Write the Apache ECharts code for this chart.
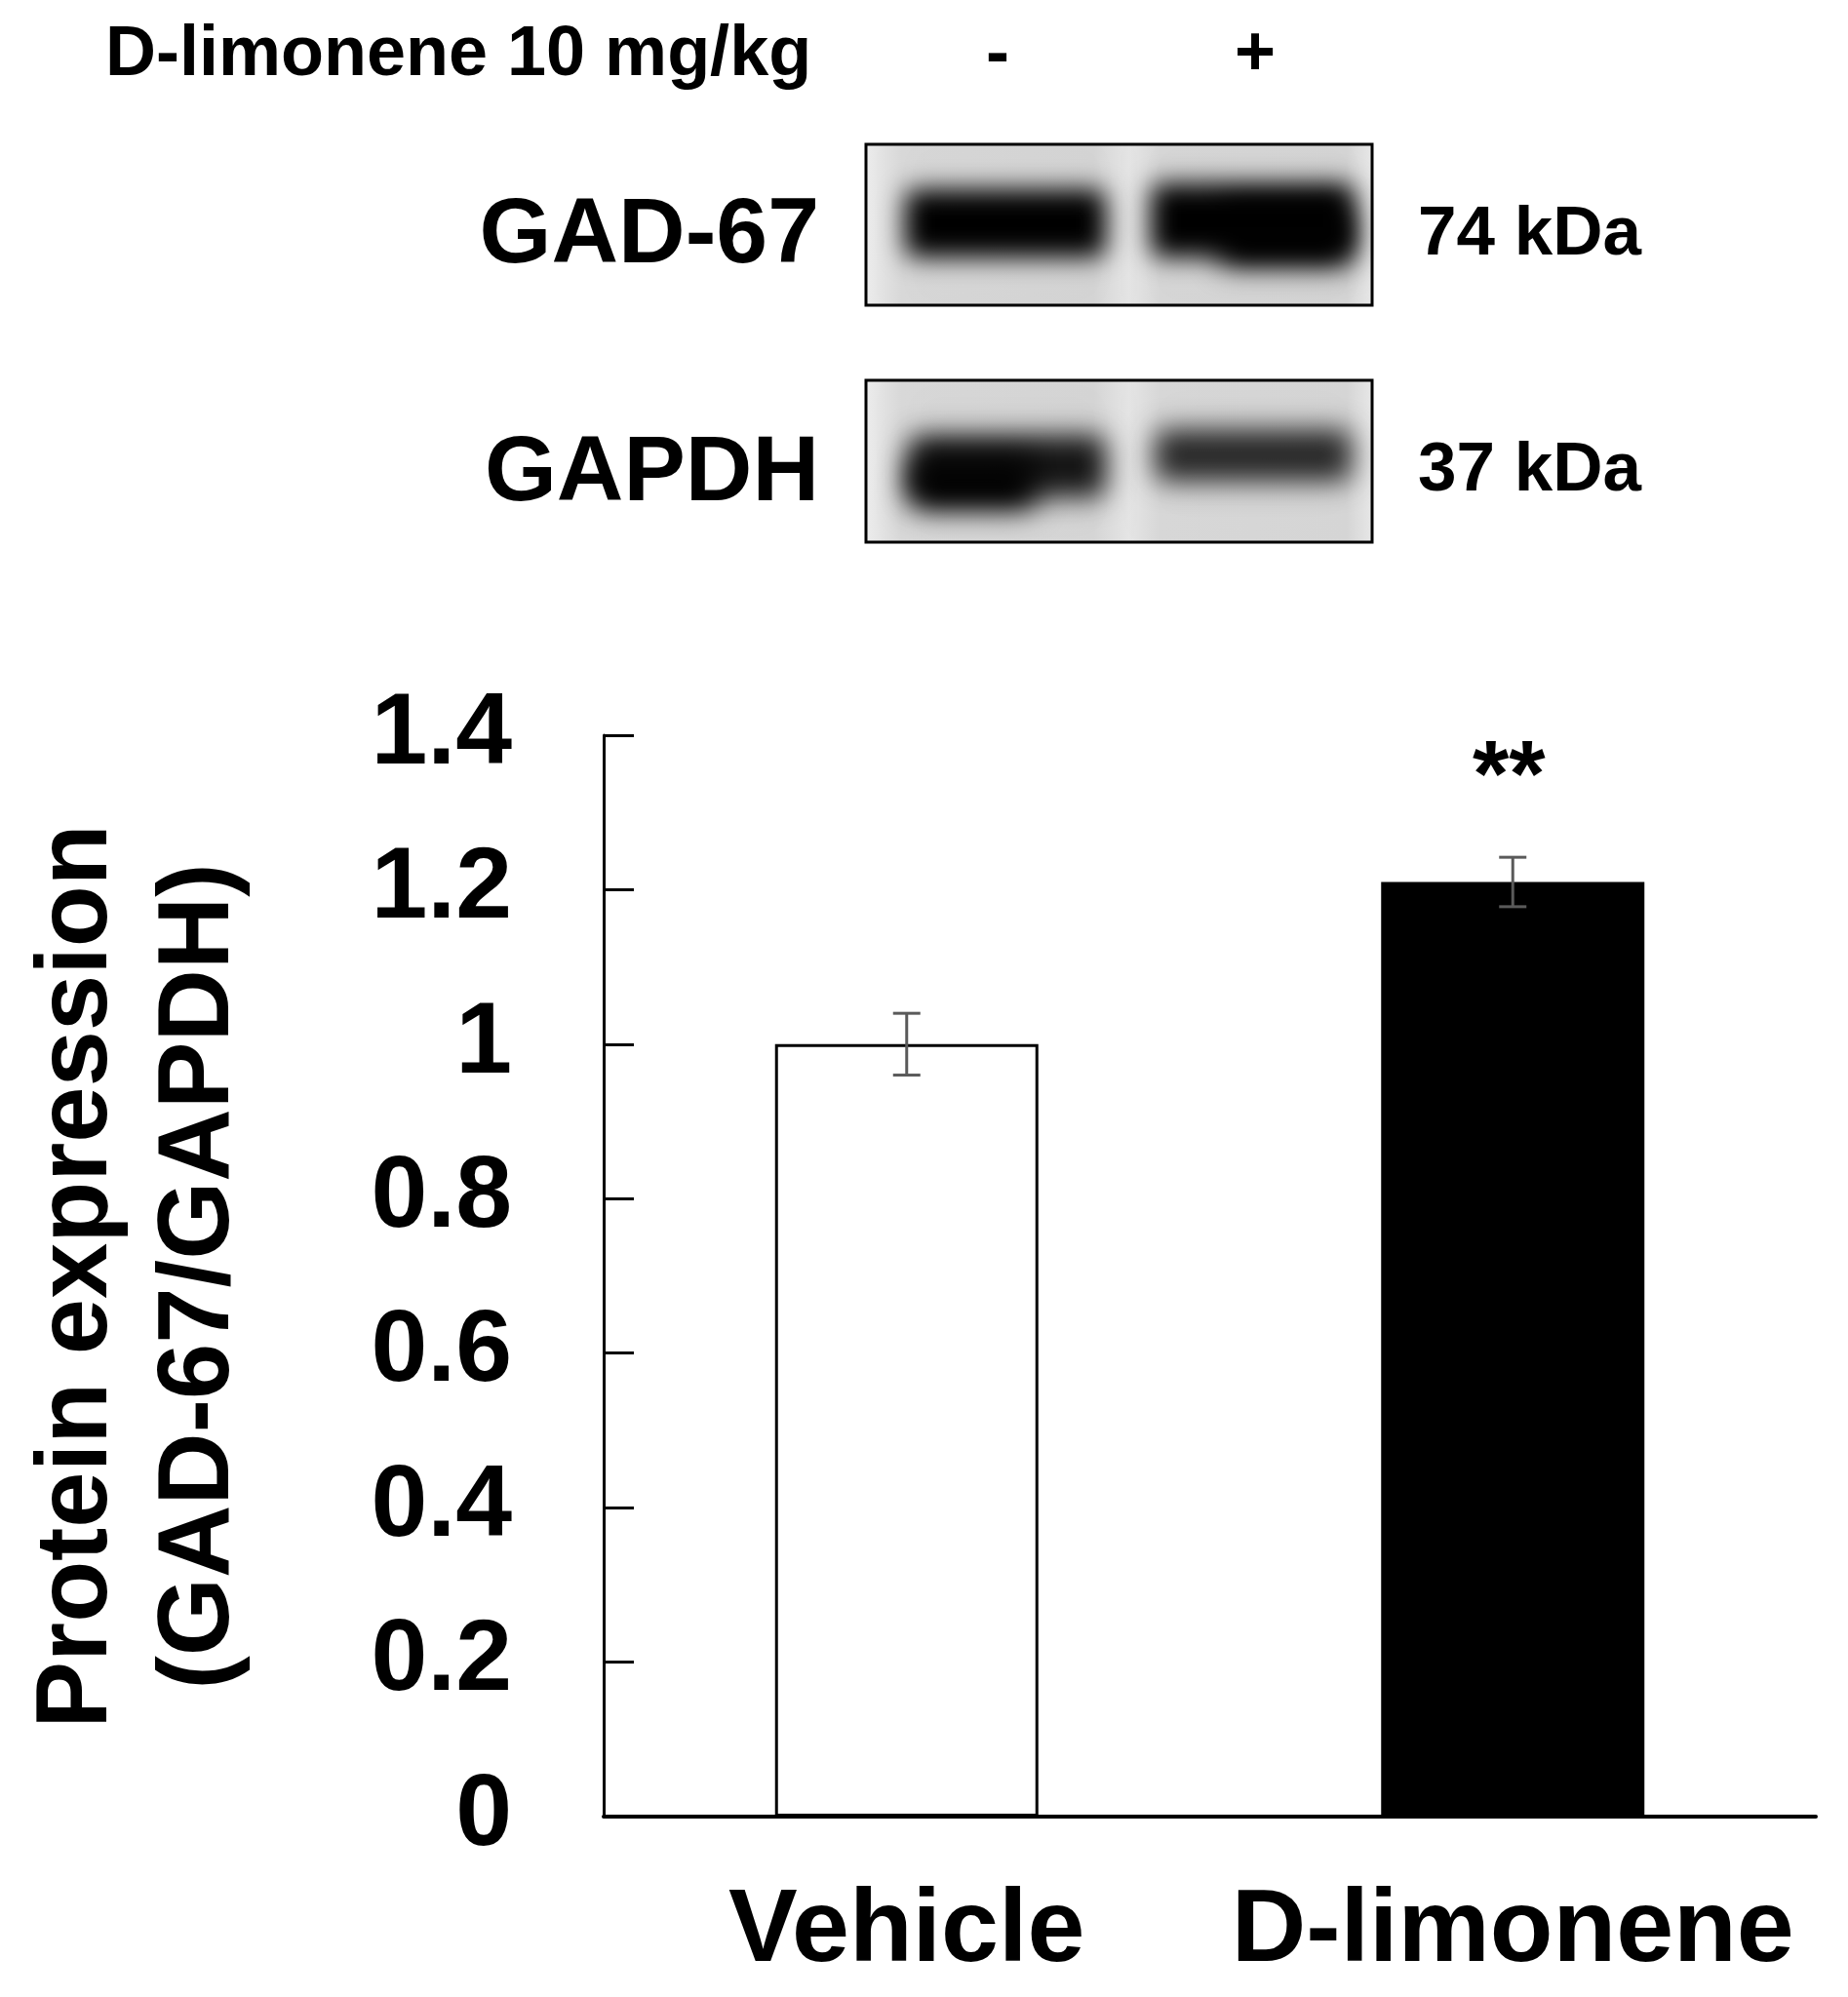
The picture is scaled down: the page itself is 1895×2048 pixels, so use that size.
<!DOCTYPE html>
<html>
<head>
<meta charset="utf-8">
<script src="https://cdn.jsdelivr.net/npm/echarts@6/dist/echarts.min.js"></script>
<style>
html,body{margin:0;padding:0;background:#fff;}
#chart{width:1895px;height:2048px;}
</style>
</head>
<body>
<div id="chart"></div>
<script>
// ---- data ----
const categories = ['Vehicle', 'D-limonene'];
const means = [1.00, 1.21];
const errors = [0.04, 0.032];
const significance = ['', '**'];
const yTickValues = [0, 0.2, 0.4, 0.6, 0.8, 1.0, 1.2, 1.4];
const yTickLabels = ['0', '0.2', '0.4', '0.6', '0.8', '1', '1.2', '1.4'];
const treatmentLabel = 'D-limonene 10 mg/kg';
const treatmentSigns = ['-', '+'];
const blotProteins = ['GAD-67', 'GAPDH'];
const blotWeights = ['74 kDa', '37 kDa'];

const FONT = '"Liberation Sans", Arial, Helvetica, sans-serif';
const chart = echarts.init(document.getElementById('chart'));

function hgrad(stops) {
  return { type: 'linear', x: 0, y: 0, x2: 1, y2: 0,
    colorStops: stops.map(s => ({ offset: s[0], color: s[1] })) };
}
function txt(text, x, y, size, align) {
  return {
    type: 'text', x: x, y: y, z: 50,
    style: { text: text, x: 0, y: 0, fill: '#000',
      font: 'bold ' + size + 'px ' + FONT,
      textAlign: align, align: align,
      textVerticalAlign: 'middle', verticalAlign: 'middle' }
  };
}

// blot boxes
const boxes = [
  { x: 888, y: 148, w: 519, h: 165 },
  { x: 888, y: 390, w: 519, h: 166 }
];
const laneBg = hgrad([[0, '#ececec'], [0.07, '#d9d9d9'], [0.45, '#d6d6d6'], [0.52, '#e6e6e6'], [0.58, '#d8d8d8'], [0.95, '#d6d6d6'], [1, '#e8e8e8']]);

// blurred blobs (drawn as shadows only): x, y, w, h, alpha, blur
const OFF = 4000;
const blobs = [
  // GAD-67 lane smears
  { x: 935, y: 150, w: 195, h: 160, a: 0.12, b: 30 },
  { x: 1185, y: 150, w: 200, h: 160, a: 0.12, b: 30 },
  // GAD-67 bands
  { x: 928, y: 194, w: 206, h: 70, a: 1, b: 26 },
  { x: 1180, y: 188, w: 208, h: 76, a: 1, b: 26 },
  { x: 1250, y: 210, w: 136, h: 62, a: 1, b: 30 },
  // GAPDH lane smears
  { x: 935, y: 400, w: 195, h: 145, a: 0.10, b: 30 },
  { x: 1185, y: 400, w: 200, h: 130, a: 0.08, b: 30 },
  // GAPDH bands
  { x: 932, y: 446, w: 202, h: 64, a: 0.95, b: 28 },
  { x: 932, y: 470, w: 130, h: 52, a: 1, b: 30 },
  { x: 1184, y: 440, w: 202, h: 54, a: 0.9, b: 28 }
];

const graphics = [];
boxes.forEach(b => {
  graphics.push({ type: 'rect', z: 10, shape: { x: b.x, y: b.y, width: b.w, height: b.h },
    style: { fill: laneBg } });
});
blobs.forEach(bd => {
  graphics.push({ type: 'rect', z: 12, shape: { x: bd.x - OFF, y: bd.y, width: bd.w, height: bd.h, r: 12 },
    style: { fill: 'rgba(0,0,0,' + bd.a + ')', shadowBlur: bd.b,
      shadowColor: 'rgba(0,0,0,' + bd.a + ')', shadowOffsetX: OFF, shadowOffsetY: 0 } });
});
// mask outside of boxes so blur does not leak
boxes.forEach(b => {
  graphics.push({ type: 'rect', z: 19, shape: { x: b.x - 60, y: b.y - 60, width: b.w + 120, height: 58 }, style: { fill: '#fff' } });
  graphics.push({ type: 'rect', z: 19, shape: { x: b.x - 60, y: b.y + b.h + 2, width: b.w + 120, height: 58 }, style: { fill: '#fff' } });
  graphics.push({ type: 'rect', z: 19, shape: { x: b.x - 60, y: b.y - 2, width: 58, height: b.h + 4 }, style: { fill: '#fff' } });
  graphics.push({ type: 'rect', z: 19, shape: { x: b.x + b.w + 2, y: b.y - 2, width: 40, height: b.h + 4 }, style: { fill: '#fff' } });
  graphics.push({ type: 'rect', z: 20, shape: { x: b.x, y: b.y, width: b.w, height: b.h },
    style: { fill: 'none', stroke: '#000', lineWidth: 3 } });
});

// texts
graphics.push(txt(treatmentLabel, 108, 57, 72, 'left'));
graphics.push(txt(treatmentSigns[0], 1023, 57, 72, 'center'));
graphics.push(txt(treatmentSigns[1], 1287, 57, 72, 'center'));
graphics.push(txt(blotProteins[0], 840, 243, 95, 'right'));
graphics.push(txt(blotProteins[1], 840, 487, 95, 'right'));
graphics.push(txt(blotWeights[0], 1454, 241, 71, 'left'));
graphics.push(txt(blotWeights[1], 1454, 483, 71, 'left'));
// y-axis title (two lines, rotated)
graphics.push({
  type: 'text', x: 143, y: 1309, rotation: Math.PI / 2, z: 50,
  style: { text: 'Protein expression\n(GAD-67/GAPDH)', x: 0, y: 0, fill: '#000',
    font: 'bold 103px ' + FONT, lineHeight: 125,
    textAlign: 'center', align: 'center', textVerticalAlign: 'middle', verticalAlign: 'middle' }
});

const option = {
  backgroundColor: '#fff',
  animation: false,
  grid: { left: 619, right: 33, top: 754, bottom: 185, containLabel: false },
  xAxis: {
    type: 'category', data: categories,
    axisLine: { lineStyle: { color: '#000', width: 4 } },
    axisTick: { show: false },
    axisLabel: { color: '#000', fontFamily: FONT, fontWeight: 'bold', fontSize: 106, margin: 66,
      interval: 0, hideOverlap: false }
  },
  yAxis: {
    type: 'value', min: 0, max: 1.4, interval: 0.2,
    splitLine: { show: false },
    axisLine: { show: true, lineStyle: { color: '#000', width: 3 } },
    axisTick: { show: true, inside: true, length: 31, lineStyle: { color: '#000', width: 3 } },
    axisLabel: { color: '#000', fontFamily: FONT, fontWeight: 'bold', fontSize: 104, margin: 94,
      formatter: function (v) {
        const i = yTickValues.findIndex(t => Math.abs(t - v) < 1e-6);
        return i >= 0 ? yTickLabels[i] : '';
      } }
  },
  series: [
    {
      type: 'bar', barWidth: 270,
      data: means.map((m, i) => ({
        value: m,
        itemStyle: i === 0
          ? { color: '#fff', borderColor: '#000', borderWidth: 3 }
          : { color: '#000', borderColor: '#000', borderWidth: 0 }
      })),
      z: 2
    },
    {
      type: 'custom', z: 5,
      data: means.map((m, i) => [i, m, errors[i]]),
      renderItem: function (params, api) {
        const i = api.value(0), m = api.value(1), e = api.value(2);
        const top = api.coord([i, m + e]);
        const bot = api.coord([i, m - e]);
        const cap = 14;
        const ls = { stroke: '#5a5a5a', lineWidth: 3 };
        const children = [
          { type: 'line', shape: { x1: top[0], y1: top[1], x2: bot[0], y2: bot[1] }, style: ls },
          { type: 'line', shape: { x1: top[0] - cap, y1: top[1], x2: top[0] + cap, y2: top[1] }, style: ls },
          { type: 'line', shape: { x1: bot[0] - cap, y1: bot[1], x2: bot[0] + cap, y2: bot[1] }, style: ls }
        ];
        const sig = significance[params.dataIndex];
        if (sig) {
          children.push({ type: 'text', style: { text: sig, x: top[0] - 4, y: top[1] - 80,
            fill: '#000', font: 'bold 96px ' + FONT,
            textAlign: 'center', align: 'center', textVerticalAlign: 'middle', verticalAlign: 'middle' } });
        }
        return { type: 'group', children: children };
      }
    }
  ],
  graphic: { elements: graphics }
};
chart.setOption(option);
</script>
</body>
</html>
